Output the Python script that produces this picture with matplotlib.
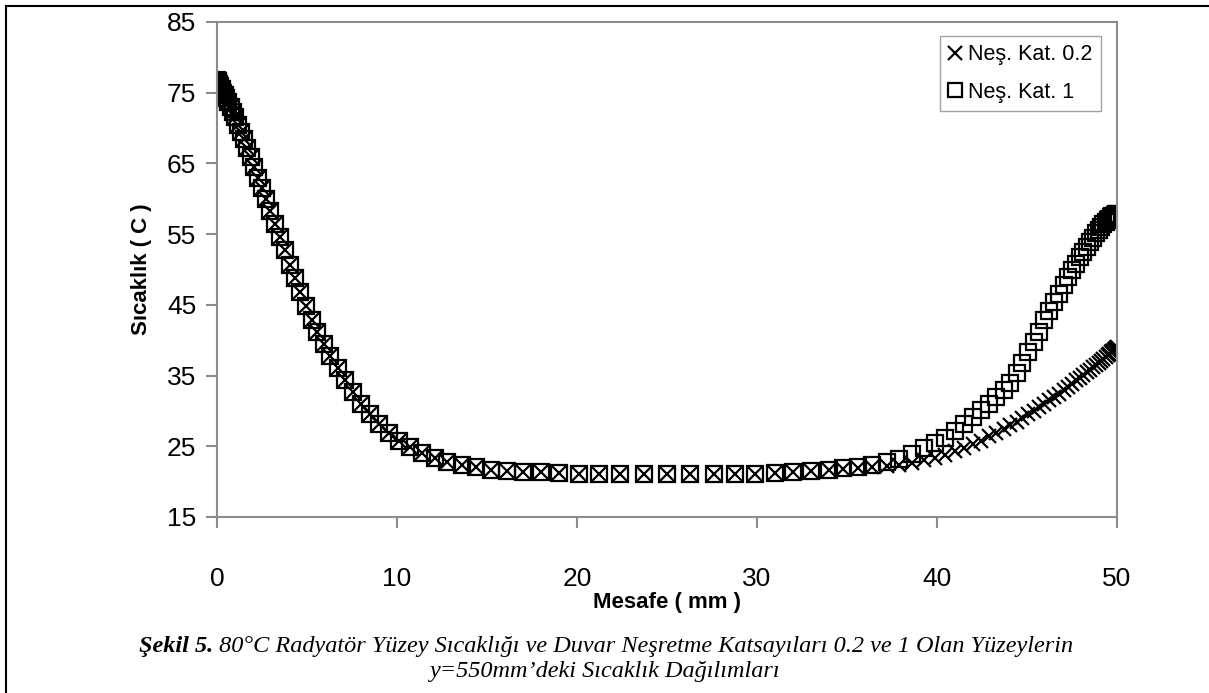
import matplotlib
matplotlib.use("Agg")
import matplotlib.pyplot as plt
from matplotlib.lines import Line2D

plt.rcParams['font.family'] = ['Liberation Sans', 'DejaVu Sans']

# shared part of both profiles (0 .. 30 mm)
x_common = [0.0, 0.03, 0.07, 0.12, 0.18, 0.25, 0.33, 0.42, 0.52, 0.63, 0.75, 0.88,
            1.02, 1.17, 1.33, 1.5, 1.68, 1.87, 2.07, 2.28, 2.5, 2.73, 2.97, 3.22,
            3.48, 3.75, 4.03, 4.32, 4.62, 4.93, 5.25, 5.58, 5.93, 6.3, 6.7, 7.12,
            7.56, 8.02, 8.5, 9.0, 9.55, 10.1, 10.7, 11.4, 12.1, 12.8, 13.6, 14.4,
            15.2, 16.1, 17.0, 18.0, 19.0, 20.1, 21.2, 22.4, 23.7, 25.0, 26.3, 27.6,
            28.8, 29.9]
t_common = [76.8, 76.7, 76.5, 76.2, 75.9, 75.5, 75.0, 74.7, 74.3, 73.7, 73.0, 72.3,
            71.5, 70.5, 69.5, 68.4, 67.2, 65.9, 64.5, 63.0, 61.5, 59.9, 58.2, 56.4,
            54.6, 52.7, 50.7, 48.8, 46.8, 44.8, 42.9, 41.1, 39.4, 37.7, 36.0, 34.3,
            32.7, 31.0, 29.6, 28.2, 26.9, 25.8, 24.9, 24.1, 23.4, 22.8, 22.3, 22.0,
            21.7, 21.5, 21.4, 21.3, 21.2, 21.1, 21.1, 21.1, 21.1, 21.1, 21.1, 21.1,
            21.1, 21.1]

# near the right wall (31 .. 50 mm)
x_right = [31.0, 32.0, 33.0, 34.0, 34.8, 35.6, 36.4, 37.2, 37.9, 38.6, 39.3, 39.9,
           40.45, 41.0, 41.5, 41.98, 42.44, 42.88, 43.3, 43.7, 44.07, 44.42, 44.75,
           45.07, 45.38, 45.68, 45.97, 46.25, 46.52, 46.78, 47.03, 47.27, 47.5,
           47.72, 47.93, 48.13, 48.32, 48.5, 48.67, 48.83, 48.98, 49.12, 49.25,
           49.37, 49.48, 49.58, 49.67, 49.75, 49.82, 49.88, 49.93, 49.97, 50.0]
t_right_02 = [21.2, 21.3, 21.45, 21.6, 21.75, 21.9, 22.05, 22.2, 22.4, 22.7, 23.0, 23.4,
              23.8, 24.3, 24.8, 25.3, 25.8, 26.4, 26.9, 27.5, 28.0, 28.5, 29.0,
              29.5, 30.0, 30.5, 31.0, 31.5, 32.0, 32.4, 32.9, 33.4, 33.8,
              34.3, 34.7, 35.1, 35.5, 35.8, 36.2, 36.5, 36.8, 37.1, 37.4,
              37.6, 37.9, 38.1, 38.3, 38.5, 38.6, 38.75, 38.85, 38.95, 39.0]
t_right_1 = [21.2, 21.35, 21.5, 21.7, 21.9, 22.1, 22.4, 22.75, 23.2, 23.9, 24.7, 25.4,
             26.2, 27.2, 28.2, 29.2, 30.1, 31.0, 32.0, 33.0, 34.0, 35.4, 36.8,
             38.3, 39.8, 41.2, 42.8, 44.1, 45.4, 46.6, 47.8, 48.9, 49.9,
             50.8, 51.7, 52.5, 53.2, 53.9, 54.5, 55.1, 55.6, 56.0, 56.4,
             56.7, 57.0, 57.2, 57.4, 57.5, 57.6, 57.7, 57.75, 57.8, 57.8]

labels = ['Neş. Kat. 0.2', 'Neş. Kat. 1']
x_ticks = [0, 10, 20, 30, 40, 50]
y_ticks = [15, 25, 35, 45, 55, 65, 75, 85]

xs = x_common + x_right
t02 = t_common + t_right_02
t1 = t_common + t_right_1

fig = plt.figure(figsize=(12.09, 6.93), dpi=100)
ax = fig.add_axes([0.1795, 0.254, 0.7444, 0.7143])

ax.plot(xs, t02, linestyle='none', marker='x', color='black',
        markersize=10.5, markeredgewidth=1.6, label=labels[0])
ax.plot(xs, t1, linestyle='none', marker='s', color='black',
        markerfacecolor='none', markersize=11.5, markeredgewidth=1.6, label=labels[1])

ax.set_xlim(0, 50)
ax.set_ylim(15, 85)
ax.set_xticks(x_ticks)
ax.set_yticks(y_ticks)
for s in ax.spines.values():
    s.set_color('#8c8c8c')
    s.set_linewidth(1.5)
ax.tick_params(axis='both', colors='#8c8c8c', labelcolor='black',
               labelsize=19, width=1.5, length=8)
ax.tick_params(axis='x', pad=28)
ax.tick_params(axis='y', pad=7)

ax.set_xlabel('Mesafe ( mm )', fontsize=16, fontweight='bold', labelpad=1)
ax.set_ylabel('Sıcaklık ( C )', fontsize=16, fontweight='bold', labelpad=11)

leg = ax.legend(loc='upper right', bbox_to_anchor=(0.982, 0.972), fontsize=15.5,
                frameon=True, fancybox=False, handlelength=0.6, handletextpad=0.3,
                borderpad=0.4, labelspacing=0.75, markerscale=0.9,
                borderaxespad=0)
leg.get_frame().set_edgecolor('#8c8c8c')
leg.get_frame().set_linewidth(1.0)

# outer frame of the figure (top and left edges)
fig.add_artist(Line2D([0.005, 1.0], [0.991, 0.991], color='black', lw=1.5,
                      transform=fig.transFigure))
fig.add_artist(Line2D([0.005, 0.005], [0.0, 0.991], color='black', lw=1.5,
                      transform=fig.transFigure))

# caption: bold-italic lead followed by italic text
cap_font = ['Liberation Serif', 'DejaVu Serif']
cap_size = 17.5
lead = fig.text(0, 0.067, 'Şekil 5.', family=cap_font, fontsize=cap_size,
                fontstyle='italic', fontweight='bold', va='center')
rest = fig.text(0, 0.067, ' 80°C Radyatör Yüzey Sıcaklığı ve Duvar Neşretme Katsayıları 0.2 ve 1 Olan Yüzeylerin',
                family=cap_font, fontsize=cap_size, fontstyle='italic', va='center')
fig.text(0.5, 0.031, 'y=550mm’deki Sıcaklık Dağılımları', family=cap_font,
         fontsize=cap_size, fontstyle='italic', ha='center', va='center')
fig.canvas.draw()
r = fig.canvas.get_renderer()
w1 = lead.get_window_extent(r).width / fig.bbox.width
w2 = rest.get_window_extent(r).width / fig.bbox.width
x0 = 0.501 - (w1 + w2) / 2
lead.set_x(x0)
rest.set_x(x0 + w1)

fig.savefig('out.png', dpi=100)
